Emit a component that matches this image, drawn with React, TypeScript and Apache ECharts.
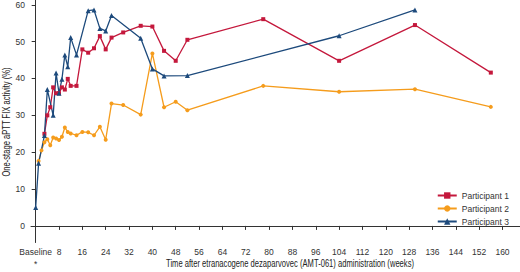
import React, { useEffect, useRef } from "react";
import * as echarts from "echarts";

const p1Weeks = [3, 4, 5, 6, 7, 8, 9, 10, 11, 12, 14, 16, 18, 20, 22, 24, 26, 30, 36, 40, 44, 48, 52, 78, 104, 130, 156];
const p1Values = [25, 30, 32.2, 37.6, 36, 36, 37.6, 37, 39.9, 38, 38, 47.9, 47, 48.2, 51.5, 47.9, 51.1, 52.5, 54.3, 54.1, 47.5, 44.8, 50.5, 56.1, 44.8, 54.5, 41.6];

const p2Weeks = [1, 2, 3, 4, 5, 6, 7, 8, 9, 10, 11, 12, 14, 16, 18, 20, 22, 24, 26, 30, 36, 40, 44, 48, 52, 78, 104, 130, 156];
const p2Values = [17.6, 20.5, 22.7, 23.5, 21.9, 24, 23.7, 23.3, 24.2, 26.7, 25.5, 25.1, 24.6, 25.5, 25.4, 24.6, 26.9, 23.4, 33.2, 32.8, 30.2, 46.8, 32.2, 33.7, 31.4, 38, 36.4, 37.1, 32.3];

const p3Weeks = [0, 1, 3, 4, 6, 7, 8, 9, 10, 11, 12, 14, 18, 20, 22, 24, 26, 36, 40, 44, 52, 104, 130];
const p3Values = [5, 17, 24.5, 37, 30, 41.5, 36, 39.8, 46.4, 43.2, 51.1, 46.4, 58.4, 58.6, 53.6, 52.9, 57.1, 50.9, 42.6, 40.7, 40.8, 51.6, 58.6];

const xTicks = [0, 8, 16, 24, 32, 40, 48, 56, 64, 72, 80, 88, 96, 104, 112, 120, 128, 136, 144, 152, 160];
const yTicks = [0, 10, 20, 30, 40, 50, 60];

const seriesNames = ["Participant 1", "Participant 2", "Participant 3"];
const seriesColors = ["#c4183c", "#f59c1c", "#1d4a7c"];
const xTitle = "Time after etranacogene dezaparvovec (AMT-061) administration (weeks)";
const yTitle = "One-stage aPTT FIX activity (%)";

const zip = (w: number[], v: number[]) => w.map((x, i) => [x, v[i]]);

export default function App() {
  const ref = useRef<HTMLDivElement>(null);
  useEffect(() => {
    if (!ref.current) return;
    const chart = echarts.init(ref.current, undefined, { renderer: "svg" });
    const labelFont = "'Liberation Sans', Arial, sans-serif";
    chart.setOption({
      animation: false,
      backgroundColor: "#ffffff",
      grid: { left: 31, right: 0, top: 0, bottom: 29.5, containLabel: false },
      graphic: [
        {
          type: "text",
          x: 290,
          y: 264,
          scaleX: 0.76,
          style: {
            text: xTitle,
            font: "10px 'Liberation Sans', Arial, sans-serif",
            fill: "#222",
            textAlign: "center",
            textVerticalAlign: "middle",
          },
        },
        {
          type: "text",
          x: 7,
          y: 122,
          rotation: Math.PI / 2,
          scaleX: 0.76,
          style: {
            text: yTitle,
            font: "10px 'Liberation Sans', Arial, sans-serif",
            fill: "#222",
            textAlign: "center",
            textVerticalAlign: "middle",
          },
        },
      ],
      xAxis: {
        type: "value",
        min: -1.6,
        max: 166,
        axisLine: { lineStyle: { color: "#333", width: 1 } },
        axisTick: { show: true, customValues: xTicks, length: 4, lineStyle: { color: "#333" } },
        axisLabel: {
          customValues: xTicks,
          fontFamily: labelFont,
          fontSize: 8.5,
          color: "#333",
          margin: 5,
          formatter: (v: number) => (v === 0 ? "Baseline\n{s|*}" : String(v)),
          rich: { s: { fontSize: 8.5, color: "#333", lineHeight: 14 } },
        },
        splitLine: { show: false },
      },
      yAxis: {
        type: "value",
        min: -4.5,
        max: 61.3,
        axisLine: { show: true, lineStyle: { color: "#333", width: 1 } },
        axisTick: { show: true, customValues: yTicks, length: 4, lineStyle: { color: "#333" } },
        axisLabel: {
          customValues: yTicks,
          fontFamily: labelFont,
          fontSize: 8.5,
          color: "#333",
          margin: 6,
        },
        splitLine: { show: false },
      },
      legend: {
        orient: "vertical",
        right: 6,
        top: 186,
        itemWidth: 19,
        itemHeight: 8,
        itemGap: 4,
        textStyle: { fontFamily: labelFont, fontSize: 8.5, color: "#333" },
        data: seriesNames,
      },
      series: [
        {
          name: seriesNames[0],
          type: "line",
          data: zip(p1Weeks, p1Values),
          symbol: "rect",
          symbolSize: 4,
          color: seriesColors[0],
          lineStyle: { width: 1.3 },
        },
        {
          name: seriesNames[1],
          type: "line",
          data: zip(p2Weeks, p2Values),
          symbol: "circle",
          symbolSize: 4,
          color: seriesColors[1],
          lineStyle: { width: 1.3 },
        },
        {
          name: seriesNames[2],
          type: "line",
          data: zip(p3Weeks, p3Values),
          symbol: "triangle",
          symbolSize: 5,
          color: seriesColors[2],
          lineStyle: { width: 1.3 },
        },
      ],
    });
    return () => chart.dispose();
  }, []);
  return <div ref={ref} style={{ width: 520, height: 272, position: "absolute", left: 0, top: 0 }} />;
}
